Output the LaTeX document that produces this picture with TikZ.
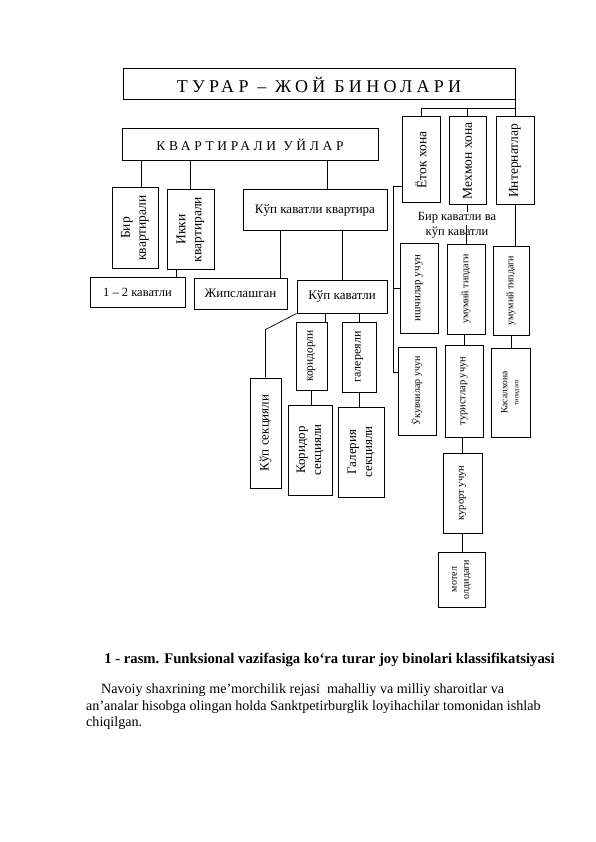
\documentclass[tikz,border=0pt]{standalone}
\usepackage{fontspec}
\setmainfont{Liberation Serif}
\newfontfamily\spacedA[LetterSpace=24]{Liberation Serif}
\newfontfamily\spacedB[LetterSpace=27]{Liberation Serif}
\usetikzlibrary{fit,calc}
\tikzset{
  box/.style={draw, line width=1pt, inner sep=0pt},
  conn/.style={line width=0.7pt},
  vt/.style={rotate=90, align=center, inner sep=0pt},
  ht/.style={align=center, inner sep=0pt},
}
\newcommand\BX[4][]{\node[box,fit={(#3) (#4)},#1] (#2) {};}
\newcommand\fsz[2]{\fontsize{#1}{#2}\selectfont}
\begin{document}
\begin{tikzpicture}[x=1pt,y=-1pt]
\useasboundingbox (0,0) rectangle (596,842);
% boxes
\BX[label={[ht,font=\spacedA\fsz{18}{20}]center:{ТУРАР – ЖОЙ БИНОЛАРИ}}]{top}{123,69}{515,100}
\BX[label={[ht,font=\spacedB\fsz{13.5}{15}]center:{КВАРТИРАЛИ  УЙЛАР}}]{kv}{122,129}{378,161}
\BX[label={[vt,font=\fsz{13.5}{16}]center:{Бир\\квартирали}}]{bir}{112,188}{158,268}
\BX[label={[vt,font=\fsz{13.5}{16}]center:{Икки\\квартирали}}]{ikki}{167,190}{214,269}
\BX[label={[ht,font=\fsz{12.5}{15}]center:{1 – 2 каватли}}]{b12}{90,277}{185,307}
\BX[label={[ht,font=\fsz{13}{15}]center:{Жипслашган}}]{jips}{194,278}{287,309}
\BX[label={[ht,font=\fsz{13}{15}]center:{Кўп каватли квартира}}]{kkk}{243,190}{387,230}
\BX[label={[ht,font=\fsz{13}{15}]center:{Кўп каватли}}]{kk}{297,280}{387,313}
\BX[label={[vt,font=\fsz{11.5}{14}]center:{коридорли}}]{kor}{296,322}{327,390}
\BX[label={[vt,font=\fsz{12}{14}]center:{галереяли}}]{gal}{342,322}{376,392}
\BX[label={[vt,font=\fsz{13}{15}]center:{Кўп секцияли}}]{kups}{250,378}{281,488}
\BX[label={[vt,font=\fsz{13}{16}]center:{Коридор\\секцияли}}]{kors}{288,405}{332,495}
\BX[label={[vt,font=\fsz{13}{16}]center:{Галерия\\секцияли}}]{gals}{338,407}{384,497}
\BX[label={[vt,font=\fsz{13.5}{14}]center:{Ёток хона}}]{etok}{402,117}{440,203}
\BX[label={[vt,font=\fsz{13.5}{14}]center:{Мехмон хона}}]{mehmon}{449,117}{486,205}
\BX[label={[vt,font=\fsz{13.5}{14}]center:{Интернатлар}}]{internat}{496,117}{534,205}
\BX[label={[vt,font=\fsz{11}{13}]center:{ишчилар учун}}]{ishchi}{400,243}{438,333}
\BX[label={[vt,font=\fsz{10}{12}]center:{умумий типдаги}}]{umum1}{447,244}{485,334}
\BX[label={[vt,font=\fsz{10}{12}]center:{умумий типдаги}}]{umum2}{493,246}{529,335}
\BX[label={[vt,font=\fsz{10}{12}]center:{Ўкувчилар учун}}]{ukuv}{398,347}{436,435}
\BX[label={[vt,font=\fsz{10.5}{12}]center:{туристлар учун}}]{turist}{445,345}{483,437}
\BX[label={[vt,font=\fsz{9.5}{11}]center:{Касалхона\\{\fsz{6.5}{8}типидаги}}}]{kasal}{491,348}{530,437}
\BX[label={[vt,font=\fsz{10.5}{12}]center:{курорт учун}}]{kurort}{443,453}{482,533}
\BX[label={[vt,font=\fsz{10}{12}]center:{мотел\\олдидаги}}]{motel}{438,552}{485,607}
\node[align=center, font=\fsz{12.5}{15}, inner sep=0pt] (lbl) at (457,225) {Бир каватли ва\\кўп каватли};
% connectors
\coordinate (j0) at (515,108);
\draw[conn] (top.south -| internat.north) -- (internat.north);
\draw[conn] (etok.north) |- (j0);
\draw[conn] (mehmon.north) -- (mehmon.north |- j0);
\coordinate (c1) at ([xshift=6pt]bir.north);
\draw[conn] (c1) -- (c1 |- kv.south);
\draw[conn] (ikki.north) -- (ikki.north |- kv.south);
\coordinate (c2) at ([xshift=-14.5pt]ikki.south);
\draw[conn] (c2) -- (c2 |- b12.north);
\coordinate (c3) at ([xshift=12pt]kkk.north);
\draw[conn] (c3) -- (c3 |- kv.south);
\coordinate (c4) at ([xshift=-35pt]kkk.south);
\draw[conn] (c4) -- (c4 |- jips.north);
\draw[conn] (kk.north) -- (kk.north |- kkk.south);
\coordinate (c5) at ([yshift=48pt]kups.north);
\draw[conn] (kk.south west) -- (c5) -- (kups.north);
\coordinate (c6) at ([xshift=13.5pt]kor.north);
\draw[conn] (c6) -- (c6 |- kk.south);
\draw[conn] (gal.north) -- (gal.north |- kk.south);
\draw[conn] (kor.south) -- (kor.south |- kors.north);
\draw[conn] (gal.south) -- (gal.south |- gals.north);
\coordinate (j1) at (393,186);
\coordinate (u1) at ([yshift=19pt]ukuv.west);
\draw[conn] (etok.west |- j1) -- (j1) |- (u1);
\draw[conn] (ishchi.west) -- (ishchi.west -| j1);
\draw[conn] (mehmon.south) -- (mehmon.south |- lbl.north);
\draw[conn] (umum1.north) -- (umum1.north |- lbl.center);
\draw[conn] (internat.south) -- (internat.south |- umum2.north);
\draw[conn] (turist.north) -- (turist.north |- umum1.south);
\draw[conn] (umum2.south) -- (umum2.south |- kasal.north);
\draw[conn] (kurort.north) -- (kurort.north |- turist.south);
\draw[conn] (kurort.south) -- (kurort.south |- motel.north);
% caption and text
\node[anchor=base, font=\bfseries\fsz{14.7}{17}, inner sep=0pt] (cap) at (329.5,663) {1 - rasm. Funksional vazifasiga ko‘ra turar joy binolari klassifikatsiyasi};
\node[anchor=base west, font=\fsz{14.1}{17}, inner sep=0pt] (p1) at (101,693) {Navoiy shaxrining me’morchilik rejasi\ \ mahalliy va milliy sharoitlar va};
\node[anchor=base west, font=\fsz{14.1}{17}, inner sep=0pt] (p2) at (86,710) {an’analar hisobga olingan holda Sanktpetirburglik loyihachilar tomonidan ishlab};
\node[anchor=base west, font=\fsz{14.1}{17}, inner sep=0pt] (p3) at (86,726) {chiqilgan.};
\end{tikzpicture}
\end{document}
